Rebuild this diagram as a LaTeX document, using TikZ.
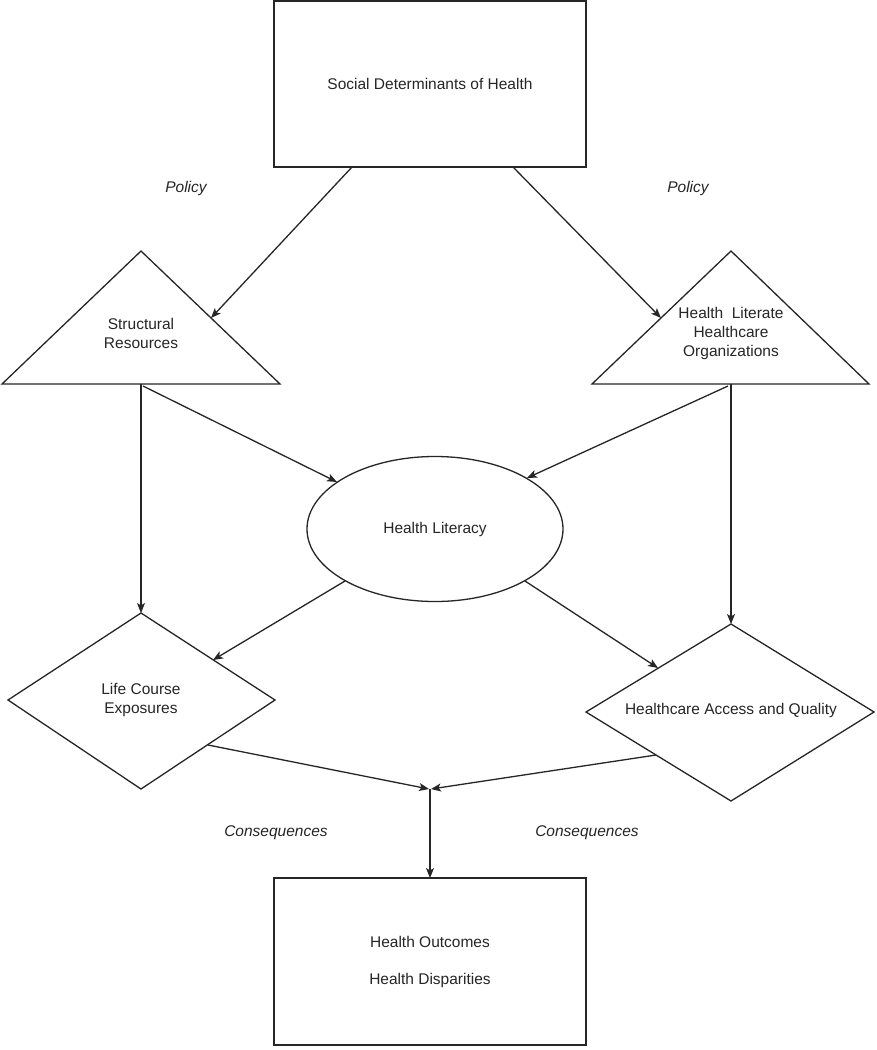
\documentclass[tikz,border=0pt]{standalone}
\usepackage{fontspec}
\setmainfont{Liberation Sans}
\usetikzlibrary{arrows.meta,shapes.geometric}
\begin{document}
\begin{tikzpicture}[x=1pt,y=-1pt,
  shapeline/.style={draw=black!85, line width=1.3pt},
  lbl/.style={font=\fontsize{15.5}{19}\selectfont, text=black!85, align=center, inner sep=0pt},
  itl/.style={font=\fontsize{15.5}{19}\selectfont\itshape, text=black!85, inner sep=0pt},
  conn/.style={draw=black!85, line width=1.3pt, -{Stealth[length=10pt,width=8pt,inset=2.5pt]}},
  plain/.style={draw=black!85, line width=1.3pt}]
\useasboundingbox[fill=white] (0,0) rectangle (876,1050);

% boxes
\node[shapeline, lbl, rectangle, minimum width=312pt, minimum height=166pt] (sdh) at (430,84) {Social Determinants of Health};
\node[shapeline, lbl, rectangle, minimum width=312pt, minimum height=167pt] (out) at (430,961.5) {Health Outcomes\\[18pt]Health Disparities};

% triangles
\draw[shapeline] (141,251) -- (280,384) -- (2,384) -- cycle;
\node[lbl] (sr) at (141,333) {Structural\\Resources};
\draw[shapeline] (731,251) -- (869,384) -- (592,384) -- cycle;
\node[lbl] (hlo) at (731,333) {Health\ \ Literate\\Healthcare\\Organizations};

% ellipse
\node[shapeline, lbl, ellipse, minimum width=256pt, minimum height=145pt] (hl) at (435,529) {Health Literacy};

% diamonds
\draw[shapeline] (141,613) -- (275,700) -- (141,789) -- (8,700) -- cycle;
\node[lbl] (lce) at (141,700) {Life Course\\Exposures};
\draw[shapeline] (731,624) -- (874,712) -- (731,801) -- (586,712) -- cycle;
\node[lbl] (haq) at (731,710) {Healthcare Access and Quality};

% labels
\node[itl] (p1) at (186,188) {Policy};
\node[itl] (p2) at (688,188) {Policy};
\node[itl] (c1) at (276,833) {Consequences};
\node[itl] (c2) at (587,833) {Consequences};

% connector points
\coordinate (sdhL) at (352,167);
\coordinate (sdhR) at (513,167);
\coordinate (srIn) at (211,318);
\coordinate (hloIn) at (661,318);
\coordinate (srBase) at (141,384);
\coordinate (srBase2) at (143,386);
\coordinate (hloBase) at (731,384);
\coordinate (hloBase2) at (728,386);
\coordinate (hlInL) at (337,482);
\coordinate (hlInR) at (527,478);
\coordinate (hlOutL) at (345,581);
\coordinate (hlOutR) at (525,581);
\coordinate (lceTop) at (141,613);
\coordinate (haqTop) at (731,624);
\coordinate (lceIn) at (213,660);
\coordinate (haqIn) at (658,668);
\coordinate (lceOut) at (208,745);
\coordinate (haqOut) at (656,755);
\coordinate (mergeL) at (429,789);
\coordinate (mergeR) at (431,789);
\coordinate (merge) at (430,789);
\coordinate (outTop) at (430,878);

% connectors
\draw[conn] (sdhL) -- (srIn);
\draw[conn] (sdhR) -- (hloIn);
\draw[conn] (srBase) -- (lceTop);
\draw[conn] (hloBase) -- (haqTop);
\draw[conn] (srBase2) -- (hlInL);
\draw[conn] (hloBase2) -- (hlInR);
\draw[conn] (hlOutL) -- (lceIn);
\draw[conn] (hlOutR) -- (haqIn);
\draw[conn] (lceOut) -- (mergeL);
\draw[conn] (haqOut) -- (mergeR);
\draw[conn] (merge) -- (outTop);
\end{tikzpicture}
\end{document}
